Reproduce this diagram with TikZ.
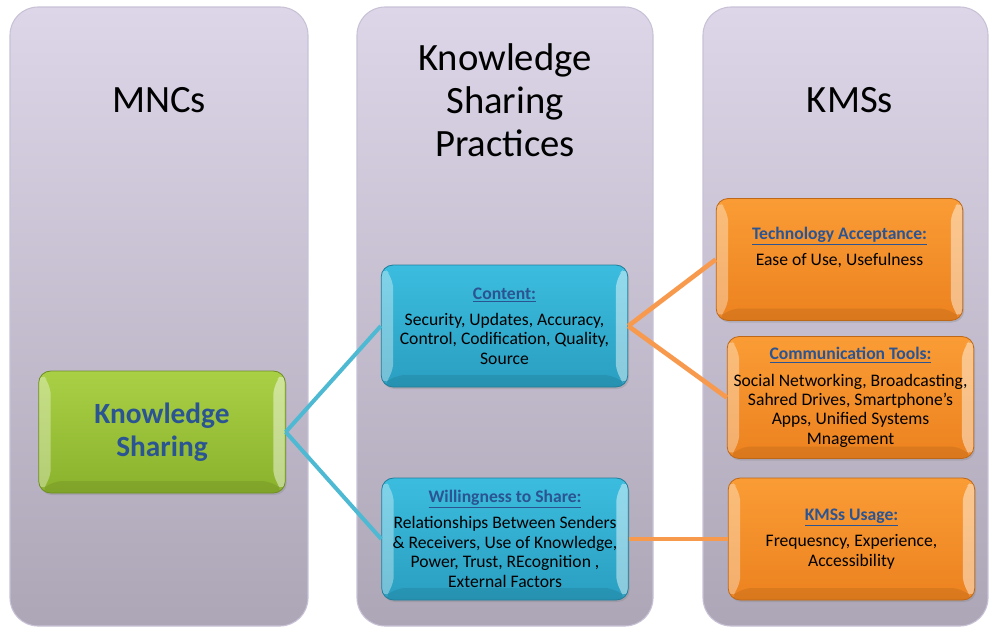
\documentclass[tikz,border=0pt]{standalone}
\usepackage{fontspec}
\setmainfont{Carlito}
\usetikzlibrary{shadows}

\definecolor{panelTop}{HTML}{DCD6E8}
\definecolor{panelBot}{HTML}{ADA6B7}
\definecolor{panelEdge}{HTML}{C9C2D6}
\definecolor{greenTop}{HTML}{A9D045}
\definecolor{greenBot}{HTML}{8AB22C}
\definecolor{cyanTop}{HTML}{3BBDDF}
\definecolor{cyanBot}{HTML}{2A9EC0}
\definecolor{orangeTop}{HTML}{FA9C35}
\definecolor{orangeBot}{HTML}{EC821F}
\definecolor{headBlue}{HTML}{2B5493}
\definecolor{cyanLine}{HTML}{4DB9D2}
\definecolor{orangeLine}{HTML}{F89A4E}

\newcommand{\boxhead}[1]{{\bfseries\color{headBlue}\underline{#1}}}

\begin{document}
\begin{tikzpicture}[x=0.75pt,y=-0.75pt,
    panel/.style={rounded corners=21pt, top color=panelTop, bottom color=panelBot, draw=panelEdge, line width=0.8pt},
    title/.style={align=center, font=\fontsize{29}{32.3}\selectfont},
    bevel/.style={path picture={
        \fill[white, opacity=0.35] (path picture bounding box.north west) -- ++(9pt,-9pt) -- ([shift={(9pt,9pt)}]path picture bounding box.south west) -- (path picture bounding box.south west) -- cycle;
        \fill[white, opacity=0.45] (path picture bounding box.north east) -- ++(-9pt,-9pt) -- ([shift={(-9pt,9pt)}]path picture bounding box.south east) -- (path picture bounding box.south east) -- cycle;
        \fill[black, opacity=0.08] (path picture bounding box.south west) -- ++(9pt,9pt) -- ([shift={(-9pt,9pt)}]path picture bounding box.south east) -- (path picture bounding box.south east) -- cycle;}},
    box/.style={rounded corners=9pt, align=center, inner sep=0pt, line width=0.6pt,
        minimum width=185pt, minimum height=91.5pt, bevel,
        font=\fontsize{13.2}{14.6}\selectfont,
        drop shadow={opacity=0.3, shadow xshift=1pt, shadow yshift=-1.5pt}},
    greenbox/.style={box, top color=greenTop, bottom color=greenBot, draw=greenBot!80!black},
    cyanbox/.style={box, top color=cyanTop, bottom color=cyanBot, draw=cyanBot!80!black},
    orangebox/.style={box, top color=orangeTop, bottom color=orangeBot, draw=orangeBot!80!black},
    cyanlink/.style={draw=cyanLine, line width=3pt},
    orangelink/.style={draw=orangeLine, line width=3.5pt}]
    \useasboundingbox (0,0) rectangle (989,626);
    \path[panel] (10,7) rectangle (308,626);
    \path[panel] (357,7) rectangle (653,626);
    \path[panel] (703,7) rectangle (988,626);
    \node[title] (mncs) at (159,100) {MNCs};
    \node[title] (ksp) at (505,100) {Knowledge\\Sharing\\Practices};
    \node[title] (kmss) at (850,100) {KMSs};
    \node[greenbox, font=\fontsize{22}{24.5}\selectfont\bfseries, text=headBlue] (ks) at (162,432) {Knowledge\\Sharing};
    \node[cyanbox] (content) at (504.5,326) {\boxhead{Content:}\\[5pt]Security, Updates, Accuracy,\\Control, Codification, Quality,\\Source};
    \node[cyanbox] (willing) at (505,539) {\boxhead{Willingness to Share:}\\[5pt]Relationships Between Senders\\\& Receivers, Use of Knowledge,\\Power, Trust, REcognition ,\\External Factors};
    \node[orangebox] (techacc) at (839.5,259.5) {\boxhead{Technology Acceptance:}\\[5pt]Ease of Use, Usefulness\\[5.4pt]\mbox{}};
    \node[orangebox] (commtools) at (850.5,397.5) {\boxhead{Communication Tools:}\\[5pt]Social Networking, Broadcasting,\\Sahred Drives, Smartphone's\\Apps, Unified Systems\\Mnagement};
    \node[orangebox] (usage) at (851.5,539) {\boxhead{KMSs Usage:}\\[5pt]Frequesncy, Experience,\\Accessibility};
    \draw[cyanlink] (ks.east) -- (content.west);
    \draw[cyanlink] (ks.east) -- (willing.west);
    \draw[orangelink] (content.east) -- (techacc.west);
    \draw[orangelink] (content.east) -- (commtools.west);
    \draw[orangelink] (willing.east) -- (usage.west);
\end{tikzpicture}
\end{document}
